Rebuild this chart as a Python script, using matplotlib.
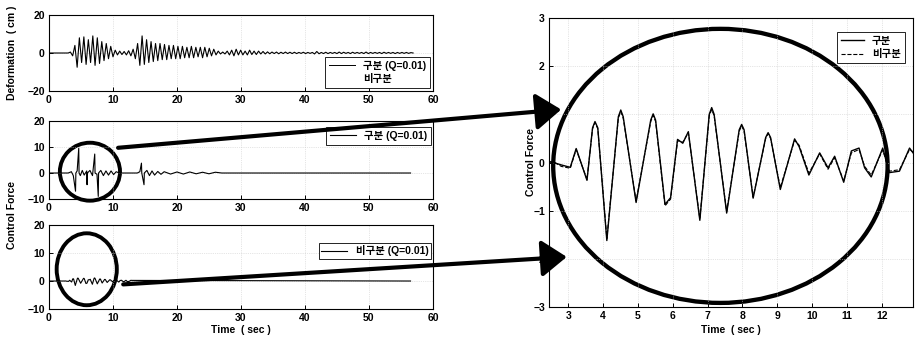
import numpy as np
import matplotlib
matplotlib.use("Agg")
import matplotlib.pyplot as plt
from matplotlib.patches import Ellipse, ConnectionPatch, ArrowStyle
from matplotlib.lines import Line2D

plt.rcParams['font.family'] = ['Liberation Sans', 'Noto Sans CJK KR', 'DejaVu Sans']
plt.rcParams['font.weight'] = 'bold'
plt.rcParams['font.size'] = 7.5

# --- data ---
# deformation (cm): successive extremes, one every 0.35 s starting at t = 3.0 s
deform_start = 3.0
deform_step = 0.35
deform_vals = [
    0, 0.5, -1.5, 4, -7.5, 8, -5, 8.5, -6, 7, -5, 9, -6.5, 8, -5.5, 6, -4, 5, -3, 3.5,
    -2, 1.5, -1, 1, -0.8, 0.8, -1, 1.2, -1.5, 2,
    -3, 5, -6.5, 9, -6, 7, -5, 6, -4.5, 5,
    -4, 5, -3.5, 4.5, -3.5, 4, -3, 4, -3, 3.5,
    -3, 3.5, -2.5, 3, -2.5, 3.5, -2.5, 3, -2, 3,
    -2.5, 3, -2, 2.5, -1.5, 2, -1, 1, -0.5, 0.5,
    -0.5, 1, -1, 1.5, -1.5, 2, -1, 1.5, -1, 1,
    -1, 1.5, -0.8, 1, -0.8, 1, -0.5, 0.8, -0.5, 0.6,
    -0.4, 0.5, -0.3, 0.5, -0.4, 0.4, -0.3, 0.5, -0.3, 0.4,
    -0.3, 0.4, -0.3, 0.3, -0.2, 0.4, -0.3, 0.3, -0.2, 0.3,
    -0.5, 0.8, -0.4, 0.3, -0.3, 0.4, -0.3, 0.3, -0.2, 0.3,
    -0.3, 0.5, -0.3, 0.4, -0.2, 0.3, -0.3, 0.4, -0.2, 0.3,
    -0.2, 0.3, -0.3, 0.5, -0.3, 0.3, -0.2, 0.3, -0.2, 0.3,
    -0.3, 0.4, -0.2, 0.3, -0.2, 0.3, -0.3, 0.3, -0.2, 0.3,
    -0.2, 0.3, -0.2, 0.2, 0,
]

# control force, 구분 (Q=0.01) with spikes
force_t = [0, 3.0, 3.5, 3.8, 4.15, 4.2, 4.4, 4.65, 4.7, 4.9, 5.2, 5.5, 5.9, 5.95, 6.0,
           6.4, 6.8, 7.15, 7.2, 7.5, 7.7, 7.75, 8.1, 8.5, 8.9, 9.3, 9.7, 10.1, 10.5, 11.0,
           13.8, 14.2, 14.45, 14.5, 14.85, 14.9, 15.3, 15.7, 16.1, 16.5, 17.0, 17.5, 18.0,
           19.0, 20.0, 21.0, 22.0, 23.0, 24.0, 25.0, 26.0, 27.0, 56.5]
force_v = [0, 0, 0.5, -1, -7, 0, 0.8, 9.5, 0, -1, 1, -0.8, 0.8, -4.5, 0,
           1, -1, 7.3, 0, -0.5, -9, 0, 1, -1, 0.8, -0.8, 0.8, -0.6, 0.5, 0,
           0, 0.5, 3.8, 0, -4.5, 0, 1, -1, 0.8, -0.8, 0.6, -0.5, 0.5,
           -0.4, 0.4, -0.4, 0.4, -0.3, 0.3, -0.3, 0.3, 0, 0]

# zoomed control force, 2.5 ~ 12.9 s
zoom_t = [2.45, 2.57, 2.8, 3.06, 3.23, 3.54, 3.70, 3.77, 3.85, 4.11,
          4.44, 4.51, 4.58, 4.95, 5.37, 5.44, 5.51, 5.78, 5.94, 6.14,
          6.29, 6.45, 6.78, 7.05, 7.12, 7.19, 7.55, 7.91, 7.98, 8.05,
          8.31, 8.67, 8.74, 8.81, 9.09, 9.50, 9.63, 9.91, 10.22, 10.46,
          10.65, 10.91, 11.13, 11.35, 11.51, 11.7, 12.03, 12.22, 12.51, 12.8,
          12.9]
zoom_gubun = [0.02, 0.0, -0.05, -0.1, 0.29, -0.37, 0.72, 0.85, 0.72, -1.62,
              0.95, 1.09, 0.95, -0.83, 0.88, 1.01, 0.88, -0.87, -0.73, 0.48,
              0.40, 0.64, -1.2, 1.0, 1.14, 1.0, -1.05, 0.68, 0.79, 0.68,
              -0.74, 0.52, 0.62, 0.52, -0.56, 0.49, 0.33, -0.26, 0.2, -0.11,
              0.13, -0.41, 0.24, 0.3, -0.11, -0.3, 0.3, -0.21, -0.18, 0.3,
              0.2]
zoom_bigubun = [0.0, 0.02, -0.08, -0.12, 0.27, -0.35, 0.7, 0.83, 0.7, -1.58,
                0.92, 1.06, 0.92, -0.8, 0.85, 0.98, 0.85, -0.9, -0.76, 0.45,
                0.42, 0.62, -1.17, 0.97, 1.1, 0.97, -1.02, 0.65, 0.76, 0.65,
                -0.72, 0.5, 0.6, 0.5, -0.52, 0.46, 0.36, -0.22, 0.18, -0.14,
                0.1, -0.38, 0.2, 0.27, -0.08, -0.26, 0.26, -0.18, -0.15, 0.27,
                0.22]

deform_t = deform_start + deform_step * np.arange(len(deform_vals))
deform_t = np.concatenate([[0.0], deform_t])
deform_v = np.concatenate([[0.0], deform_vals])

ctrl2_t = np.concatenate([[0.0], zoom_t, [56.5]])
ctrl2_v = np.concatenate([[0.0], zoom_bigubun, [0.0]])

fig = plt.figure(figsize=(9.19, 3.41), dpi=100)

ax1 = fig.add_axes([0.0533, 0.7331, 0.4178, 0.2229])
ax2 = fig.add_axes([0.0533, 0.4164, 0.4178, 0.2287])
ax3 = fig.add_axes([0.0533, 0.0938, 0.4178, 0.2463])
axr = fig.add_axes([0.5974, 0.0997, 0.3961, 0.8475])


def style(ax):
    ax.tick_params(direction='in', length=3, width=0.7, labelsize=7.5, pad=3)
    for s in ax.spines.values():
        s.set_linewidth(0.8)
    ax.grid(True, linestyle=':', color='0.8', linewidth=0.5)
    for lab in ax.get_xticklabels() + ax.get_yticklabels():
        lab.set_fontweight('bold')


ax1.plot(deform_t, deform_v, color='k', lw=0.8)
ax1.set_xlim(0, 60)
ax1.set_ylim(-20, 20)
ax1.set_xticks(range(0, 61, 10))
ax1.set_yticks([-20, 0, 20])
h1 = [Line2D([], [], color='k', lw=0.7), Line2D([], [], color='none')]
leg = ax1.legend(h1, ['구분 (Q=0.01)', '비구분'], loc='lower right', fontsize=7.5,
                 fancybox=False, edgecolor='k', framealpha=1, borderaxespad=0.25,
                 handlelength=2.5, labelspacing=0.3, borderpad=0.4)
leg.get_frame().set_linewidth(0.6)

ax2.plot(force_t, force_v, color='k', lw=0.8)
ax2.set_xlim(0, 60)
ax2.set_ylim(-10, 20)
ax2.set_xticks(range(0, 61, 10))
ax2.set_yticks([-10, 0, 10, 20])
leg = ax2.legend(['구분 (Q=0.01)'], loc='upper right', bbox_to_anchor=(0.995, 0.92),
                 fontsize=7.5, fancybox=False, edgecolor='k', framealpha=1,
                 handlelength=2.5, borderpad=0.35, borderaxespad=0)
leg.get_frame().set_linewidth(0.6)

ax3.plot(ctrl2_t, ctrl2_v, color='k', lw=0.8)
ax3.set_xlim(0, 60)
ax3.set_ylim(-10, 20)
ax3.set_xticks(range(0, 61, 10))
ax3.set_yticks([-10, 0, 10, 20])
leg = ax3.legend(['비구분 (Q=0.01)'], loc='upper right', bbox_to_anchor=(0.995, 0.79),
                 fontsize=7.5, fancybox=False, edgecolor='k', framealpha=1,
                 handlelength=2.5, borderpad=0.25, borderaxespad=0)
leg.get_frame().set_linewidth(0.6)

axr.plot(zoom_t, zoom_gubun, color='k', lw=1.0, label='구분')
axr.plot(zoom_t, zoom_bigubun, color='k', lw=0.8, ls='--', label='비구분')
axr.set_xlim(2.45, 12.9)
axr.set_ylim(-3, 3)
axr.set_xticks(range(3, 13))
axr.set_yticks(range(-3, 4))
leg = axr.legend(loc='upper right', bbox_to_anchor=(0.978, 0.952), fontsize=7.5,
                 fancybox=False, edgecolor='k', framealpha=1, handlelength=2.2,
                 borderpad=0.4, borderaxespad=0, labelspacing=0.3)
leg.get_frame().set_linewidth(0.6)

for ax in (ax1, ax2, ax3, axr):
    style(ax)

# labels
fig.text(12 / 919, 1 - 53 / 341, 'Deformation  ( cm )', rotation=90, ha='center',
         va='center', fontsize=7.5, fontweight='bold')
fig.text(12 / 919, 1 - 215 / 341, 'Control Force', rotation=90, ha='center',
         va='center', fontsize=7.5, fontweight='bold')
fig.text(241 / 919, 1 - 330 / 341, 'Time  ( sec )', ha='center', va='center',
         fontsize=7.5, fontweight='bold')
fig.text(531 / 919, 1 - 162 / 341, 'Control Force', rotation=90, ha='center',
         va='center', fontsize=7.5, fontweight='bold')
fig.text(731 / 919, 1 - 330 / 341, 'Time  ( sec )', ha='center', va='center',
         fontsize=7.5, fontweight='bold')

# highlight circles
ax2.add_patch(Ellipse((6.4, 0.5), 9.4, 22.3, fill=False, lw=2.8, color='k', clip_on=False))
ax3.add_patch(Ellipse((5.9, 4.2), 9.4, 25.7, fill=False, lw=2.8, color='k', clip_on=False))
axr.add_patch(Ellipse((7.37, -0.07), 9.6, 5.69, fill=False, lw=3.1, color='k', clip_on=False))

# arrows from the small circles to the zoomed panel
arr = ArrowStyle('-|>', head_length=1.1, head_width=0.8)
for (xa, ya, axa), (xb, yb) in [((10.8, 9.7, ax2), (2.8, 1.1)),
                                 ((11.6, -1.2, ax3), (2.96, -1.96))]:
    con = ConnectionPatch(xyA=(xa, ya), coordsA=axa.transData,
                          xyB=(xb, yb), coordsB=axr.transData,
                          arrowstyle=arr, mutation_scale=14, lw=3, color='k',
                          shrinkA=0, shrinkB=0)
    fig.add_artist(con)

fig.savefig('out.png', dpi=100)
